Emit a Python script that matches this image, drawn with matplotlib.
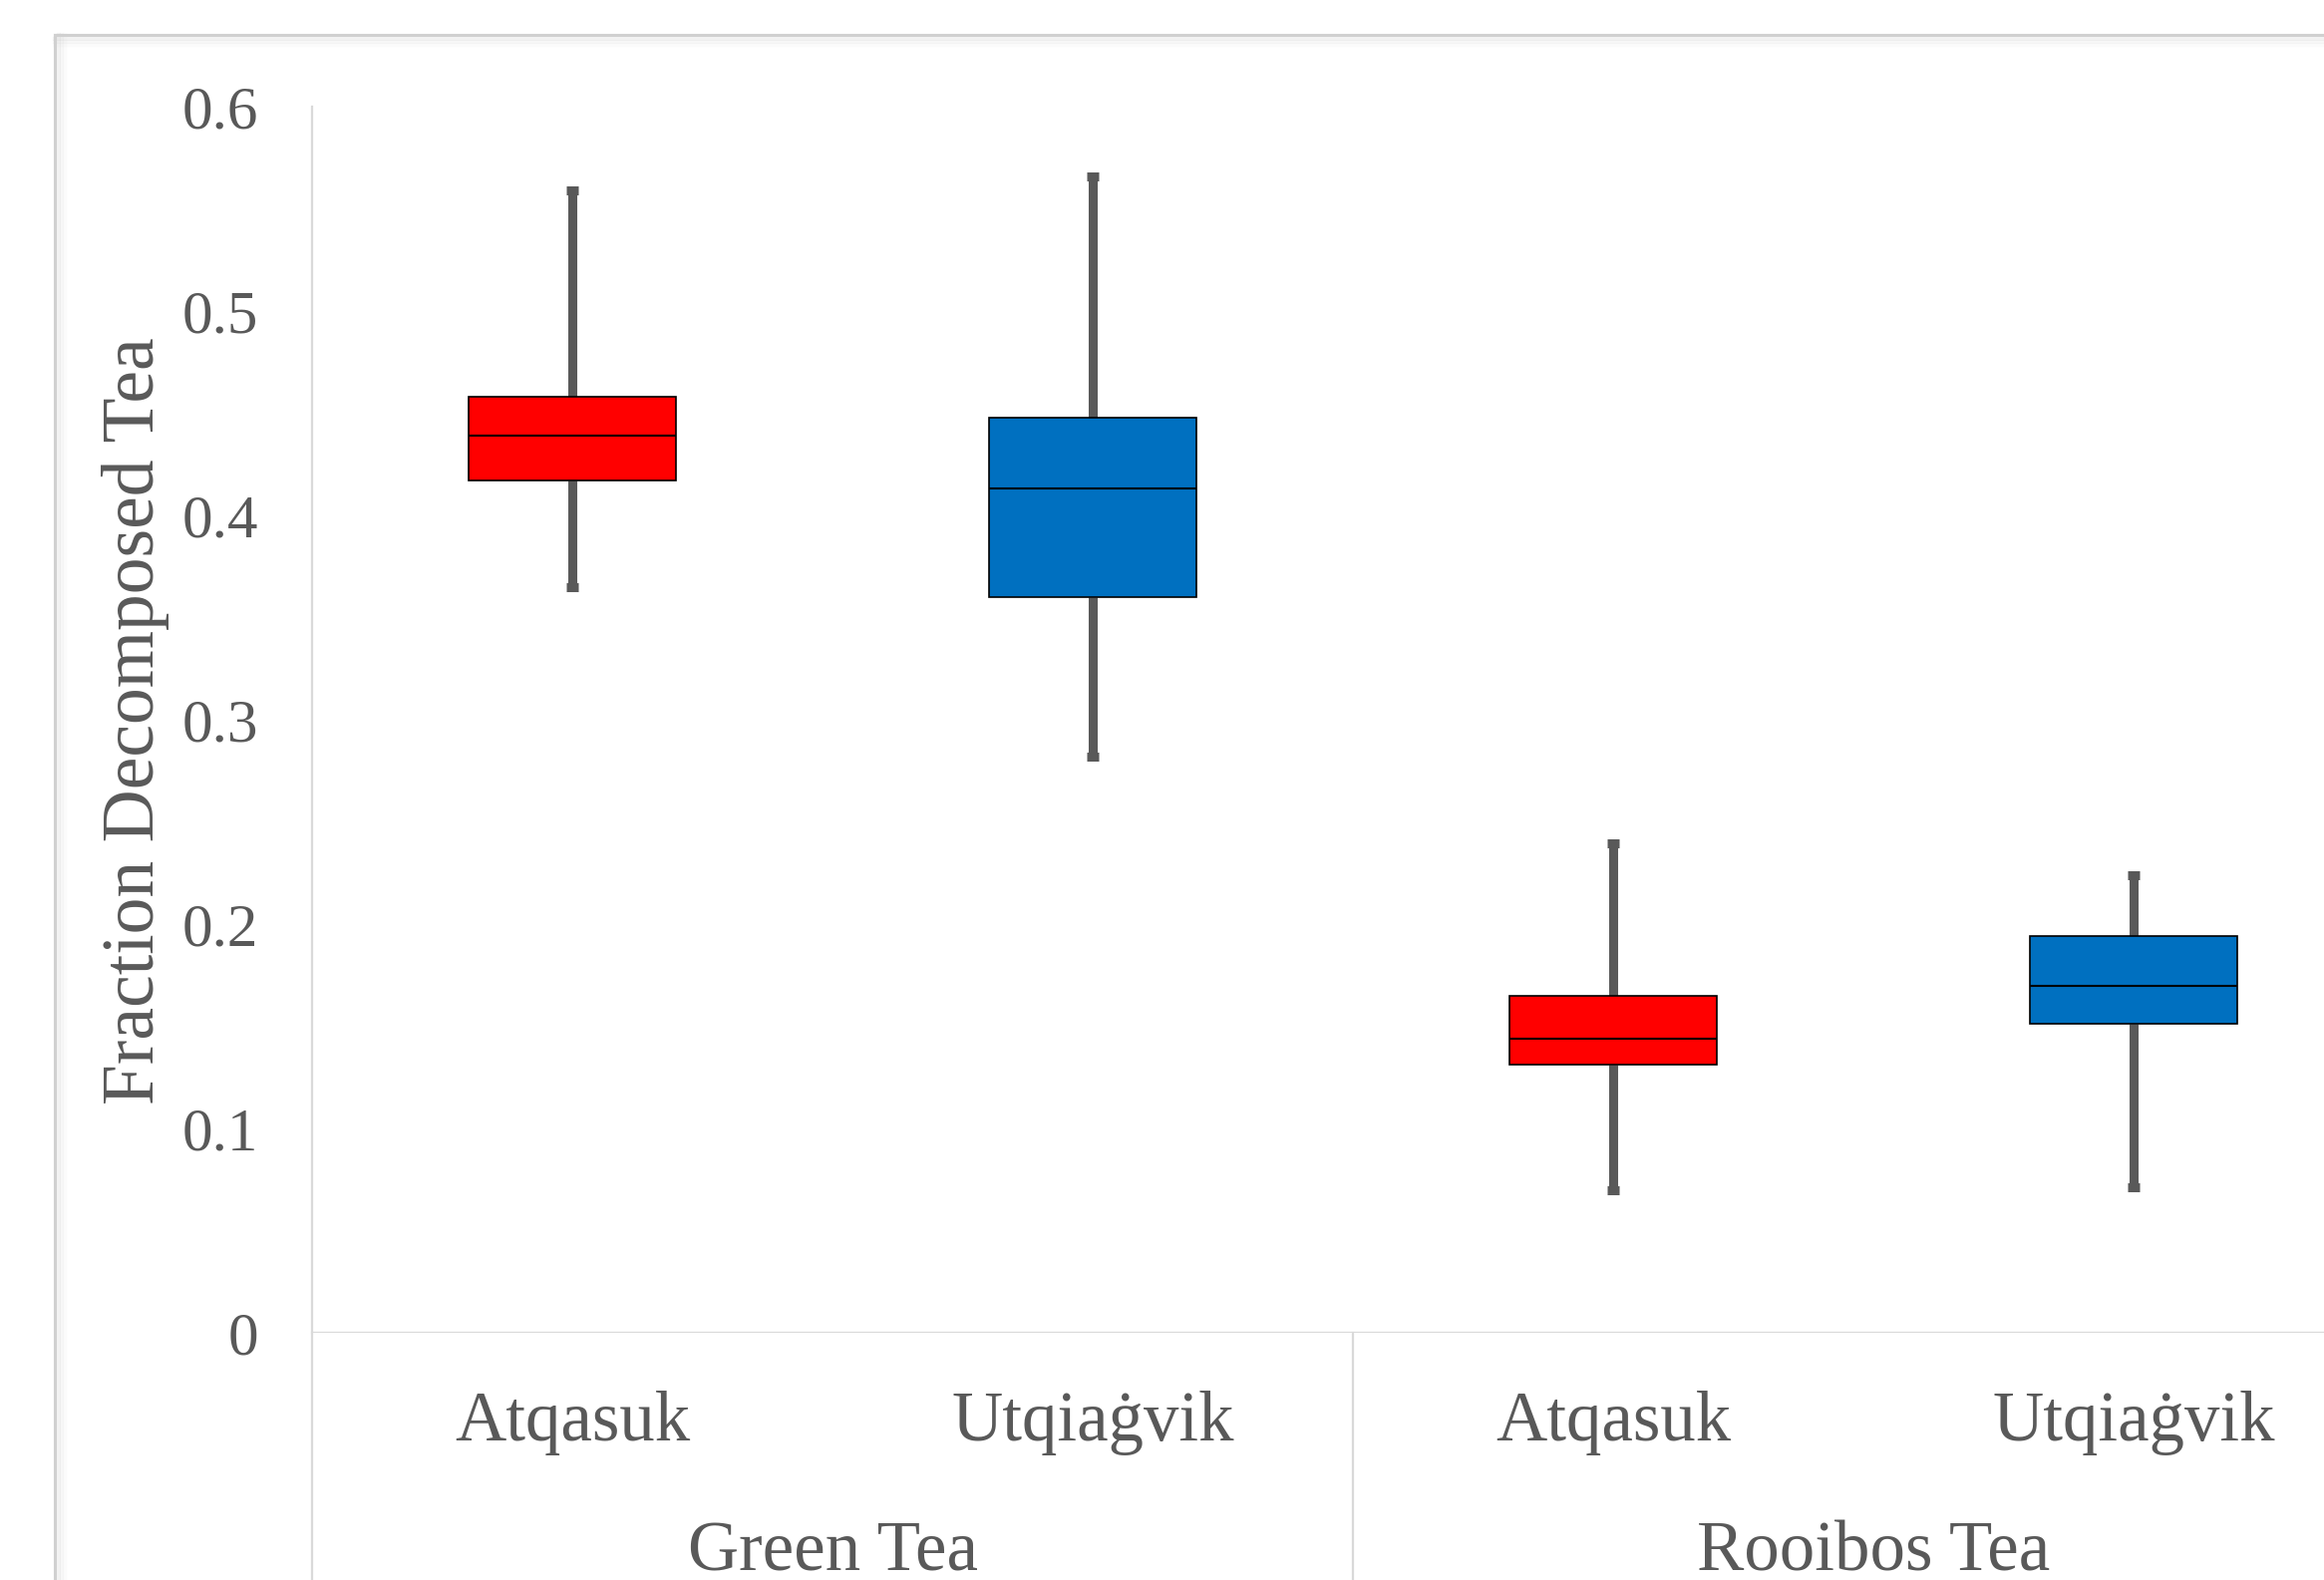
import matplotlib
matplotlib.use("Agg")
import matplotlib.pyplot as plt
from matplotlib.lines import Line2D

# values
groups = ["Green Tea", "Rooibos Tea"]
sites = ["Atqasuk", "Utqiaġvik", "Atqasuk", "Utqiaġvik"]
whislo = [0.365, 0.282, 0.070, 0.071]
q1 = [0.417, 0.360, 0.131, 0.151]
med = [0.439, 0.413, 0.144, 0.170]
q3 = [0.458, 0.448, 0.165, 0.194]
whishi = [0.559, 0.566, 0.2395, 0.224]
colores = ["#FF0000", "#0070C0", "#FF0000", "#0070C0"]

yticks = [0, 0.1, 0.2, 0.3, 0.4, 0.5, 0.6]
ytick_labels = ["0", "0.1", "0.2", "0.3", "0.4", "0.5", "0.6"]

gris = "#595959"
linea = "#D9D9D9"
plt.rcParams["font.family"] = ["Liberation Serif", "DejaVu Serif"]

W, H = 2331, 1585
fig = plt.figure(figsize=(W / 100, H / 100), dpi=100)
fig.patch.set_facecolor("white")

# chart area border with a soft shadow
for off, a in [(10, 0.05), (7, 0.10), (4, 0.18)]:
    fig.add_artist(Line2D([55 / W, 1.0], [1 - (35 + off) / H] * 2, color="#BFBFBF",
                          alpha=a, lw=3, transform=fig.transFigure))
    fig.add_artist(Line2D([(55 + off) / W] * 2, [0, 1 - 35 / H], color="#BFBFBF",
                          alpha=a, lw=3, transform=fig.transFigure))
fig.add_artist(Line2D([55 / W, 1.0], [1 - 35 / H] * 2, color="#D0D0D0", lw=2.2,
                      transform=fig.transFigure))
fig.add_artist(Line2D([55 / W] * 2, [0, 1 - 35 / H], color="#D0D0D0", lw=2.2,
                      transform=fig.transFigure))

x0, y0, y1 = 313, 1337, 107
ax = fig.add_axes([x0 / W, (H - y0) / H, 2088 / W, (y0 - y1) / H])
ax.set_facecolor("none")

stats = []
for i in range(len(sites)):
    stats.append({"whislo": whislo[i], "q1": q1[i], "med": med[i], "q3": q3[i],
                  "whishi": whishi[i], "fliers": [], "label": sites[i]})

pos = list(range(len(sites)))
bp = ax.bxp(stats, positions=pos, widths=0.4, patch_artist=True, showfliers=False,
            capwidths=0.024,
            boxprops=dict(edgecolor="black", linewidth=1.2),
            medianprops=dict(color="black", linewidth=1.5, solid_capstyle="butt"),
            whiskerprops=dict(color=gris, linewidth=6.5, solid_capstyle="butt"),
            capprops=dict(color=gris, linewidth=6.5, solid_capstyle="butt"))
for caja, c in zip(bp["boxes"], colores):
    caja.set_facecolor(c)
    caja.set_zorder(3)
for m in bp["medians"]:
    m.set_zorder(4)

ax.set_xlim(-0.5, 3.5)
ax.set_ylim(0, 0.6)
ax.set_yticks(yticks)
ax.set_yticklabels(ytick_labels)
ax.tick_params(axis="y", length=0, pad=39, labelsize=44, labelcolor=gris)
ax.set_xticks([])
for lado in ["top", "right", "bottom"]:
    ax.spines[lado].set_visible(False)
ax.spines["left"].set_color(linea)
ax.spines["left"].set_linewidth(1.6)
ax.axhline(0, color=linea, lw=1.6, zorder=1)

# category separators running down to the bottom
for xs in [-0.5, 1.5]:
    ax.plot([xs, xs], [0, -0.25], color=linea, lw=1.6, clip_on=False)

trans = ax.get_xaxis_transform()
for i, s in enumerate(sites):
    ax.text(pos[i], -0.0878, s, transform=trans, ha="center", va="baseline",
            fontsize=51, color=gris)
for j, g in enumerate(groups):
    ax.text(2 * j + 0.5, -0.1935, g, transform=trans, ha="center", va="baseline",
            fontsize=51, color=gris)

fig.text(136 / W, 1 - 723 / H, "Fraction Decomposed Tea", rotation=90,
         ha="center", va="center", fontsize=53, color=gris)

fig.savefig("out.png", dpi=100)
